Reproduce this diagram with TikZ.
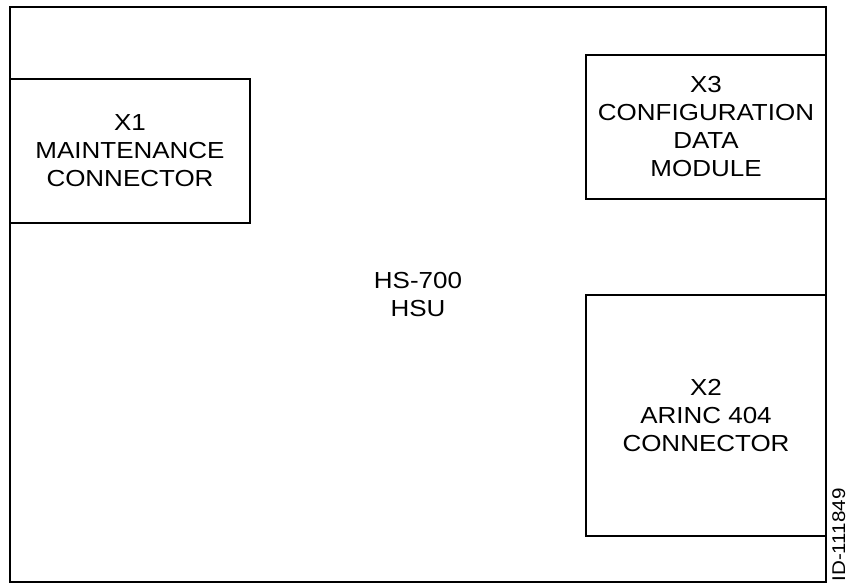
\documentclass[tikz,border=0pt]{standalone}
\usepackage{fontspec}
\setmainfont{Liberation Sans}[FakeStretch=1.12]
\usepackage{tikz}
\usetikzlibrary{positioning}

\begin{document}
\begin{tikzpicture}[x=0.5pt, y=-0.5pt, every node/.style={font=\fontsize{11.6}{14}\selectfont, align=center, inner sep=0pt},
    unitbox/.style={draw, line width=1pt}]
    \useasboundingbox (0,0) rectangle (846,584);
    \node[unitbox, minimum width=408pt, minimum height=287.5pt] (hsu) at (418,294.5) {HS-700\\HSU};
    \node[unitbox, minimum width=120pt, minimum height=72pt] (x1) at (130,151) {X1\\MAINTENANCE\\CONNECTOR};
    \node[unitbox, minimum width=120pt, minimum height=72pt] (x3) at (706,127) {X3\\CONFIGURATION\\DATA\\MODULE};
    \node[unitbox, minimum width=120pt, minimum height=120.5pt] (x2) at (706,415.5) {X2\\ARINC 404\\CONNECTOR};
    \node[rotate=90, anchor=base east, font=\fontsize{9.2}{11}\selectfont] (figid) at (845,488) {ID-111849};
\end{tikzpicture}
\end{document}
